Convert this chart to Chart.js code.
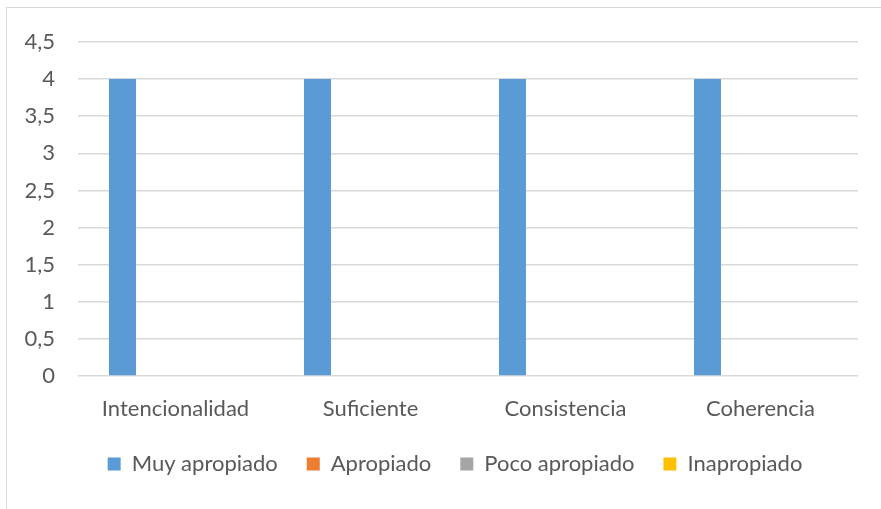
<!DOCTYPE html>
<html>
<head>
<meta charset="utf-8">
<script src="https://cdn.jsdelivr.net/npm/chart.js@4"></script>
<style>
  body { margin: 0; background: #fff; }
  #wrap { position: relative; width: 881px; height: 509px; overflow: hidden; }
  #frame { position: absolute; left: 6px; top: 7px; width: 900px; height: 520px; border: 1px solid #d9d9d9; }
  #chart { position: absolute; left: 0; top: 0; }
</style>
</head>
<body>
<div id="wrap">
  <div id="frame"></div>
  <canvas id="chart" width="881" height="509"></canvas>
</div>
<script>
// Chart data
const categories = ['Intencionalidad', 'Suficiente', 'Consistencia', 'Coherencia'];
const muyApropiado = [4, 4, 4, 4];
const apropiado = [0, 0, 0, 0];
const pocoApropiado = [0, 0, 0, 0];
const inapropiado = [0, 0, 0, 0];

const textColor = '#595959';
const gridColor = '#d9d9d9';
const fontFamily = "Lato, sans-serif";
const fontSize = 22;

// nudge the legend a bit to the right, like the original
const legendShift = {
    id: 'legendShift',
    afterLayout(chart) {
        chart.legend.left += 26;
        chart.legend.right += 26;
    }
};

const ctx = document.getElementById('chart').getContext('2d');
const chart = new Chart(ctx, {
    type: 'bar',
    data: {
        labels: categories,
        datasets: [
            { label: 'Muy apropiado', data: muyApropiado, backgroundColor: '#5B9BD5' },
            { label: 'Apropiado', data: apropiado, backgroundColor: '#ED7D31' },
            { label: 'Poco apropiado', data: pocoApropiado, backgroundColor: '#A5A5A5' },
            { label: 'Inapropiado', data: inapropiado, backgroundColor: '#FFC000' }
        ]
    },
    options: {
        responsive: false,
        animation: false,
        categoryPercentage: 0.725,
        barPercentage: 0.764,
        layout: { padding: { top: 42, right: 23, bottom: 24, left: 0 } },
        plugins: {
            tooltip: { enabled: false },
            legend: {
                position: 'bottom',
                labels: {
                    boxWidth: 13,
                    boxHeight: 13,
                    padding: 29,
                    color: textColor,
                    font: { family: fontFamily, size: fontSize }
                }
            }
        },
        scales: {
            x: {
                grid: { display: false },
                border: { display: false },
                ticks: { color: textColor, padding: 12, font: { family: fontFamily, size: fontSize } },
                afterFit: function(scale) { scale.height = 48; }
            },
            y: {
                min: 0,
                max: 4.5,
                grid: { color: gridColor, lineWidth: 1.5, drawTicks: false },
                border: { display: false },
                ticks: {
                    stepSize: 0.5,
                    padding: 23,
                    color: textColor,
                    font: { family: fontFamily, size: fontSize },
                    callback: function(v) { return String(v).replace('.', ','); }
                },
                afterFit: function(scale) { scale.width = 78; }
            }
        }
    },
    plugins: [legendShift]
});
</script>
</body>
</html>
